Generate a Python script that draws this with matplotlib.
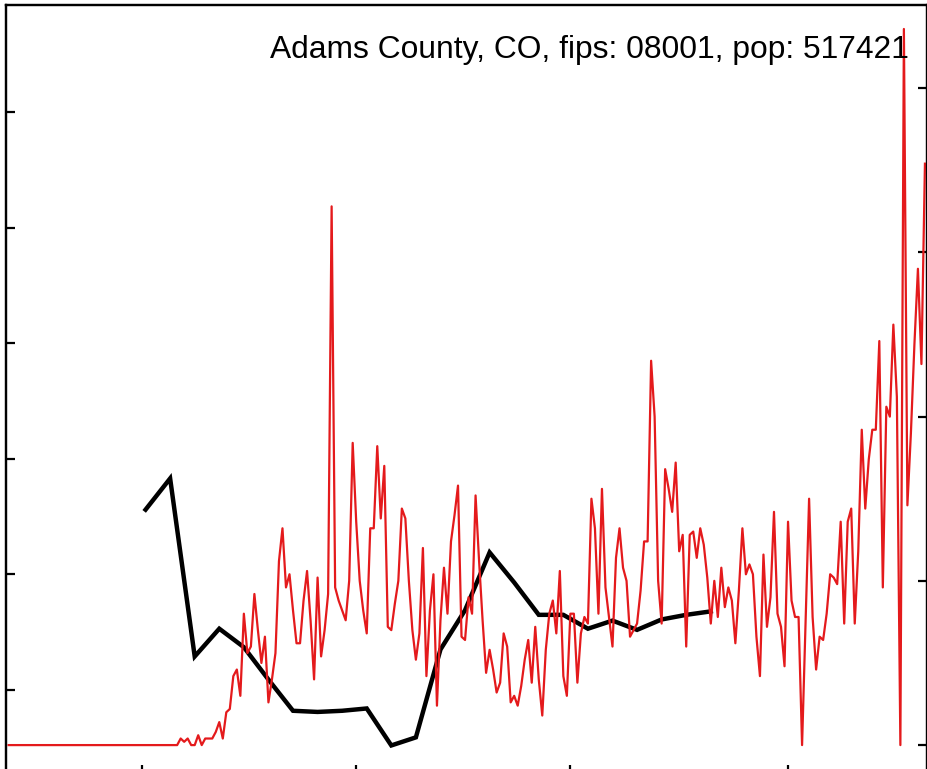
import numpy as np
import matplotlib
matplotlib.use("Agg")
import matplotlib.pyplot as plt

# ---------- DATA ----------
title = "Adams County, CO, fips: 08001, pop: 517421"

# daily new cases, 2020-01-23 .. 2020-10-10
daily_start = np.datetime64("2020-01-23")
daily_cases = [0] * 49 + [
    2, 1, 2, 0, 0, 3, 0, 2, 2, 2, 4, 7, 2, 10, 11, 21, 23, 15, 40, 28,
    30, 46, 35, 25, 33, 13, 20, 28, 56, 66, 48, 52, 41, 31, 31, 44, 53, 38, 20, 51,
    27, 35, 46, 164, 48, 44, 41, 38, 50, 92, 68, 50, 41, 34, 66, 66, 91, 69, 85, 36,
    35, 43, 50, 72, 69, 50, 35, 26, 34, 60, 21, 41, 52, 12, 38, 54, 40, 62, 70, 79,
    33, 32, 45, 40, 76, 56, 38, 22, 29, 23, 16, 19, 34, 30, 13, 15, 12, 18, 26, 32,
    19, 36, 20, 9, 29, 40, 44, 34, 53, 21, 15, 40, 40, 19, 34, 39, 37, 75, 66, 40,
    78, 48, 39, 30, 57, 66, 54, 50, 33, 35, 37, 47, 62, 62, 117, 100, 50, 37, 84, 78,
    71, 86, 59, 64, 30, 64, 65, 57, 66, 61, 51, 37, 50, 39, 54, 42, 48, 44, 31, 47,
    66, 52, 55, 52, 33, 21, 58, 36, 45, 71, 40, 36, 24, 68, 44, 39, 39, 0, 38, 75,
    39, 23, 33, 32, 40, 52, 51, 49, 68, 37, 68, 72, 37, 59, 96, 72, 87, 96, 96, 123,
    48, 103, 100, 128, 106, 0, 218, 73, 95, 122, 145, 116, 177,
]
daily_dates = daily_start + np.arange(len(daily_cases))

# weekly series (left axis, unlabeled)
weekly_start = np.datetime64("2020-03-02")
weekly_vals = [
    2.56, 2.83, 1.29, 1.53, 1.37, 1.09, 0.82, 0.81, 0.82, 0.84, 0.52, 0.59,
    1.35, 1.69, 2.19, 1.93, 1.65, 1.65, 1.53, 1.60, 1.52, 1.61, 1.65, 1.68,
]
weekly_dates = weekly_start + np.arange(len(weekly_vals)) * 7

x_ticks = np.array(["2020-03-01", "2020-05-01", "2020-07-01", "2020-09-01"],
                   dtype="datetime64[D]")
left_ticks = [1, 2, 3, 4, 5, 6]
right_ticks = [0, 50, 100, 150, 200]

# ---------- PLOTTING ----------
plt.rcParams["font.family"] = ["Liberation Sans", "DejaVu Sans"]
fig = plt.figure(figsize=(9.28, 7.69), dpi=100)
ax = fig.add_axes([6 / 928, -5 / 769, 921 / 928, 1.0])

ax.plot(weekly_dates, weekly_vals, color="black", lw=3.2, solid_joinstyle="miter")
ax.set_ylim(0.273, 6.926)
ax.set_yticks(left_ticks)

ax2 = ax.twinx()
ax2.plot(daily_dates, daily_cases, color="#E41A1C", lw=1.6)
ax2.set_ylim(-8.8, 225.3)
ax2.set_yticks(right_ticks)

ax.set_xlim(daily_start - np.timedelta64(18, "h"),
            daily_start + np.timedelta64(int(261.6 * 24), "h"))
ax.set_xticks(x_ticks)

for a in (ax, ax2):
    a.tick_params(direction="in", length=6.5, width=1.6, labelleft=False,
                  labelright=False, labelbottom=False)
    for s in a.spines.values():
        s.set_linewidth(1.6)
ax2.tick_params(left=False, right=True, bottom=False)
ax.tick_params(right=False)

fig.text(909 / 928, 1 - 58 / 769, title, ha="right", va="baseline", fontsize=22.9)

fig.savefig("out.png", dpi=100)
